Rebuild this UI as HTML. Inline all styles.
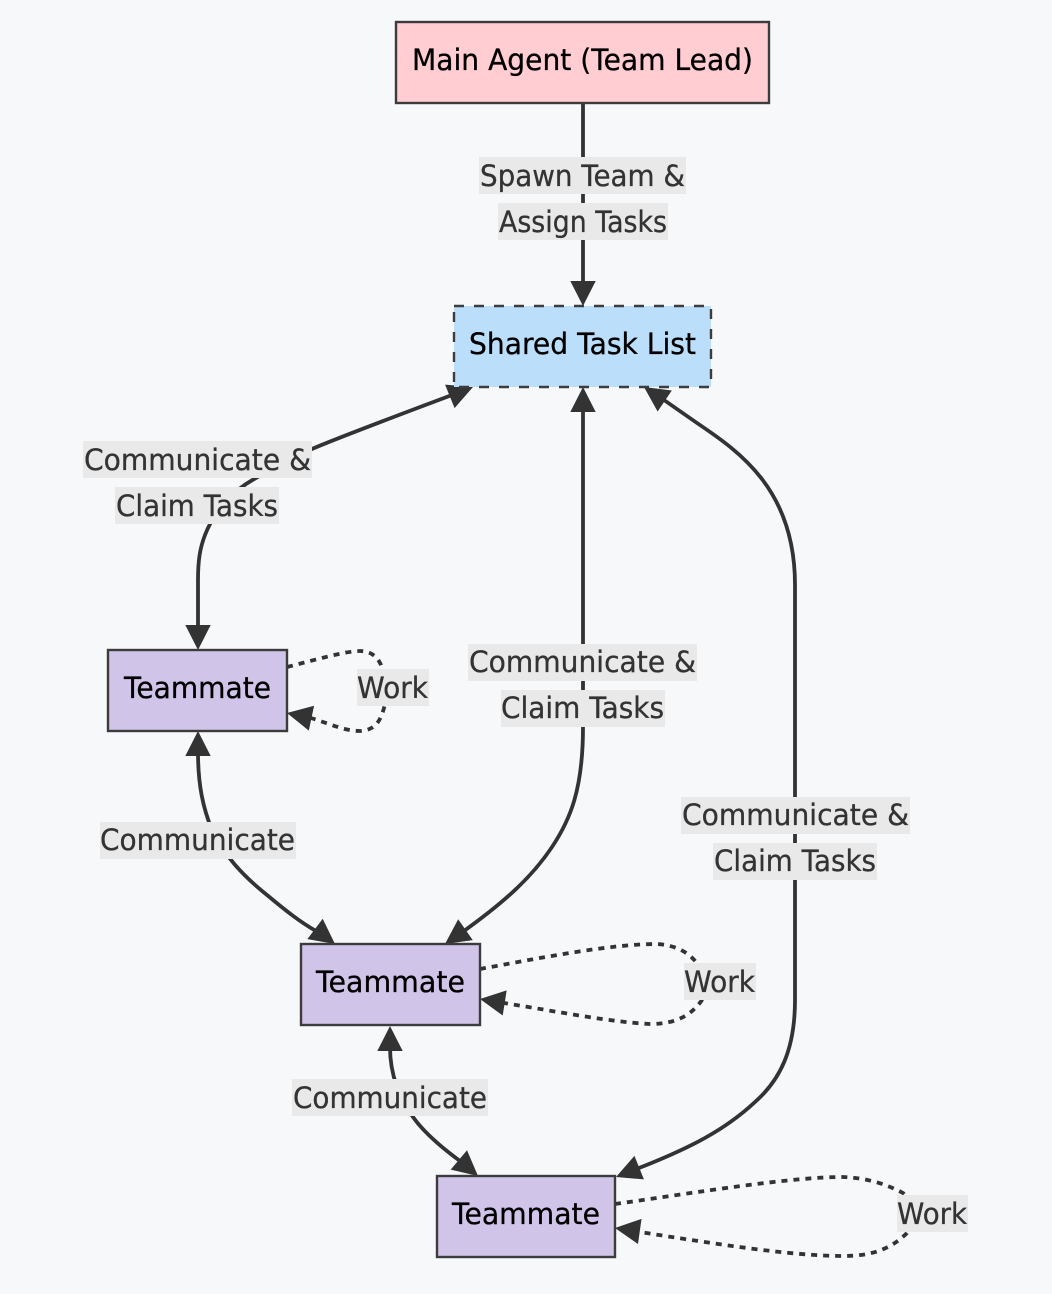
<!DOCTYPE html>
<html lang="en">
<head>
<meta charset="utf-8">
<title>Agent Team Diagram</title>
<style>
html,body{margin:0;padding:0;background:#f7f8fa;}
svg{display:block;}
text{font-family:"DejaVu Sans","Liberation Sans",sans-serif;font-size:29.5px;stroke-width:.3;}
.l{fill:#333;stroke:#333;}
.n{fill:#000;stroke:#000;}
.b{fill:#e9e9e9;}
.e{fill:none;stroke:#333;stroke-width:3.8;}
.d{fill:none;stroke:#333;stroke-width:3.8;stroke-dasharray:6 6;}
.box{stroke:#3c3c3c;stroke-width:2.4;}
.a{fill:#333;}
</style>
</head>
<body>
<svg xmlns="http://www.w3.org/2000/svg" width="1052" height="1294" viewBox="0 0 1052 1294">
<rect width="1052" height="1294" fill="#f7f8fa"/>

<!-- edges -->
<path class="e" d="M583 103 L583 284"/>
<path class="e" d="M452 395 C 380 422, 330 441, 312 449 C 285 461, 262 474, 246 484 C 222 500, 210 522, 205 535 C 200 548, 198 560, 198 580 L198 628"/>
<path class="e" d="M583 405 L583 727 C 583 790 570 820 552 847 C 530 880 500 905 464 931"/>
<path class="e" d="M664 400 L697 423 C 740 452 795 490 795 585 L795 1000 C795 1050 780 1080 755 1102 C 725 1130 690 1148 639 1168"/>
<path class="e" d="M198 752 C198 785 203 808 212 830 C 224 855 242 875 267 895 C 285 910 300 922 316 931"/>
<path class="e" d="M390 1047 C390 1075 400 1100 413 1117 C 425 1134 445 1150 460 1161"/>
<path class="d" d="M287 667 C 315 660, 345 651, 360 651 C 372 651, 378 658, 381 665 C 386 680, 388 695, 384 708 C 380 722, 375 730, 360 731 C 345 731, 330 724, 311 718"/>
<path class="d" d="M480 969 C 540 958, 610 944, 657 944 C 675 945, 688 952, 696 962 C 708 975, 708 990, 702 1000 C 692 1014, 678 1024, 650 1024 C 610 1022, 560 1012, 504 1003"/>
<path class="d" d="M615 1204 C 700 1192, 790 1177, 843 1177 C 870 1178, 890 1186, 903 1193 C 915 1205, 915 1222, 907 1233 C 890 1250, 870 1256, 843 1256 C 790 1256, 710 1243, 640 1232"/>

<!-- arrowheads -->
<polygon class="a" points="0,0 -25,-12.7 -25,12.7" transform="translate(583 306) rotate(90)"/>
<polygon class="a" points="0,0 -25,-12.7 -25,12.7" transform="translate(473 387) rotate(-22)"/>
<polygon class="a" points="0,0 -25,-12.7 -25,12.7" transform="translate(198 650) rotate(90)"/>
<polygon class="a" points="0,0 -25,-12.7 -25,12.7" transform="translate(583 387) rotate(-90)"/>
<polygon class="a" points="0,0 -25,-12.7 -25,12.7" transform="translate(445 944) rotate(145)"/>
<polygon class="a" points="0,0 -25,-12.7 -25,12.7" transform="translate(644 387) rotate(214)"/>
<polygon class="a" points="0,0 -25,-12.7 -25,12.7" transform="translate(616 1177) rotate(158)"/>
<polygon class="a" points="0,0 -25,-12.7 -25,12.7" transform="translate(198 731) rotate(-90)"/>
<polygon class="a" points="0,0 -25,-12.7 -25,12.7" transform="translate(335 944) rotate(37)"/>
<polygon class="a" points="0,0 -25,-12.7 -25,12.7" transform="translate(390 1026) rotate(-90)"/>
<polygon class="a" points="0,0 -25,-12.7 -25,12.7" transform="translate(478 1176) rotate(40)"/>
<polygon class="a" points="0,0 -25,-12.7 -25,12.7" transform="translate(287 713) rotate(192)"/>
<polygon class="a" points="0,0 -25,-12.7 -25,12.7" transform="translate(480 999) rotate(189)"/>
<polygon class="a" points="0,0 -25,-12.7 -25,12.7" transform="translate(615 1228) rotate(188)"/>

<!-- nodes -->
<rect class="box" x="396" y="22" width="373" height="81" fill="#ffcdd2"/>
<text class="n" x="412" y="70" textLength="341" lengthAdjust="spacingAndGlyphs">Main Agent (Team Lead)</text>
<rect x="454" y="306" width="257" height="81" fill="#bbdefb"/>
<rect class="box" x="454" y="306" width="257" height="81" fill="none" stroke-dasharray="10 10"/>
<text class="n" x="469" y="354" textLength="227" lengthAdjust="spacingAndGlyphs">Shared Task List</text>
<rect class="box" x="108" y="650" width="179" height="81" fill="#d1c4e9"/>
<text class="n" x="124" y="698" textLength="147" lengthAdjust="spacingAndGlyphs">Teammate</text>
<rect class="box" x="301" y="944" width="179" height="81" fill="#d1c4e9"/>
<text class="n" x="316" y="992" textLength="149" lengthAdjust="spacingAndGlyphs">Teammate</text>
<rect class="box" x="437" y="1176" width="178" height="81" fill="#d1c4e9"/>
<text class="n" x="452" y="1224" textLength="148" lengthAdjust="spacingAndGlyphs">Teammate</text>

<!-- edge labels -->
<rect class="b" x="479" y="157" width="207" height="37"/>
<text class="l" x="480" y="186" textLength="205" lengthAdjust="spacingAndGlyphs">Spawn Team &amp;</text>
<rect class="b" x="498" y="203" width="170" height="37"/>
<text class="l" x="499" y="232" textLength="168" lengthAdjust="spacingAndGlyphs">Assign Tasks</text>

<rect class="b" x="83" y="441" width="229" height="37"/>
<text class="l" x="84" y="470" textLength="227" lengthAdjust="spacingAndGlyphs">Communicate &amp;</text>
<rect class="b" x="115" y="487" width="164" height="37"/>
<text class="l" x="116" y="516" textLength="162" lengthAdjust="spacingAndGlyphs">Claim Tasks</text>

<rect class="b" x="468" y="644" width="229" height="37"/>
<text class="l" x="469" y="672" textLength="227" lengthAdjust="spacingAndGlyphs">Communicate &amp;</text>
<rect class="b" x="501" y="690" width="164" height="37"/>
<text class="l" x="501" y="718" textLength="163" lengthAdjust="spacingAndGlyphs">Claim Tasks</text>

<rect class="b" x="681" y="797" width="229" height="37"/>
<text class="l" x="682" y="825" textLength="227" lengthAdjust="spacingAndGlyphs">Communicate &amp;</text>
<rect class="b" x="713" y="843" width="164" height="37"/>
<text class="l" x="714" y="871" textLength="162" lengthAdjust="spacingAndGlyphs">Claim Tasks</text>

<rect class="b" x="100" y="822" width="196" height="37"/>
<text class="l" x="100" y="850" textLength="195" lengthAdjust="spacingAndGlyphs">Communicate</text>
<rect class="b" x="292" y="1079" width="196" height="37"/>
<text class="l" x="293" y="1108" textLength="194" lengthAdjust="spacingAndGlyphs">Communicate</text>

<rect class="b" x="357" y="669" width="72" height="37"/>
<text class="l" x="357" y="698" textLength="71" lengthAdjust="spacingAndGlyphs">Work</text>
<rect class="b" x="684" y="963" width="72" height="37"/>
<text class="l" x="684" y="992" textLength="71" lengthAdjust="spacingAndGlyphs">Work</text>
<rect class="b" x="897" y="1195" width="71" height="37"/>
<text class="l" x="897" y="1224" textLength="70" lengthAdjust="spacingAndGlyphs">Work</text>
</svg>
</body>
</html>
